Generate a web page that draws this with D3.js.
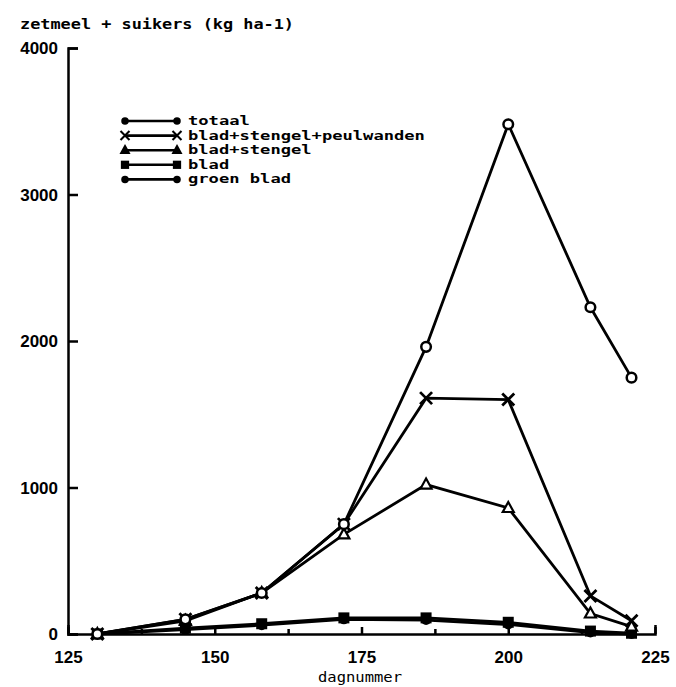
<!DOCTYPE html>
<html>
<head>
<meta charset="utf-8">
<script src="https://cdn.jsdelivr.net/npm/d3@7/dist/d3.min.js"></script>
<style>
  body { margin: 0; background: #fff; }
  .mono { font-family: 'DejaVu Sans Mono', monospace; font-weight: bold; }
  .ejes text { font-family: 'Liberation Sans', Arial, sans-serif; font-weight: bold; font-size: 17px; fill: #000; }
  .ejes path, .ejes line { stroke: #000; stroke-width: 2.5; }
</style>
</head>
<body>
<div id="graf"></div>
<script>
// dagnummer van de oogsten
const days = [130, 145, 158, 172, 186, 200, 214, 221]

// zetmeel + suikers per fractie (kg ha-1)
const totaal = [0, 100, 280, 750, 1960, 3480, 2230, 1750]
const bladStengelPeul = [0, 100, 280, 750, 1610, 1600, 260, 90]
const bladStengel = [0, 90, 280, 680, 1020, 860, 140, 50]
const blad = [0, 40, 70, 110, 110, 80, 20, 5]
const groenBlad = [0, 30, 60, 100, 95, 65, 10, 0]

const seriesNames = ['totaal', 'blad+stengel+peulwanden', 'blad+stengel', 'blad', 'groen blad']
const yTicks = [0, 1000, 2000, 3000, 4000]
const xTicks = [125, 150, 175, 200, 225]
const xMinor = [137.5, 162.5, 187.5, 212.5]

const anchoTotal = 676
const altoTotal = 687

const svg = d3.select('#graf')
  .append('svg')
  .attr('width', anchoTotal)
  .attr('height', altoTotal)

const x = d3.scaleLinear().domain([125, 225]).range([68, 655])
const y = d3.scaleLinear().domain([0, 4000]).range([634, 48])

// y-as, ticks naar binnen
const yAxisGroup = svg.append('g')
  .attr('class', 'ejes')
  .attr('transform', `translate(${x(125)}, 0)`)
  .call(d3.axisLeft(y).tickValues(yTicks).tickFormat(d3.format('d'))
    .tickSizeInner(-10).tickSizeOuter(-10).tickPadding(10))
yAxisGroup.selectAll('text').attr('dy', '0.35em')

const xAxisGroup = svg.append('g')
  .attr('class', 'ejes')
  .attr('transform', `translate(0, ${y(0)})`)
  .call(d3.axisBottom(x).tickValues(xTicks).tickSizeInner(-7).tickSizeOuter(-9).tickPadding(12))
xAxisGroup.selectAll('text').attr('y', 17)

svg.append('g')
  .attr('class', 'ejes')
  .attr('transform', `translate(0, ${y(0)})`)
  .call(d3.axisBottom(x).tickValues(xMinor).tickSize(-5).tickFormat(''))
  .select('.domain').remove()

svg.append('text')
  .attr('class', 'mono')
  .attr('x', 20)
  .attr('y', 29)
  .attr('font-size', 14)
  .attr('textLength', 274)
  .attr('lengthAdjust', 'spacingAndGlyphs')
  .text('zetmeel + suikers (kg ha-1)')

svg.append('text')
  .attr('x', 360)
  .attr('y', 682)
  .attr('text-anchor', 'middle')
  .attr('font-family', "'DejaVu Sans Mono', monospace")
  .attr('font-size', 14)
  .attr('textLength', 84)
  .attr('lengthAdjust', 'spacingAndGlyphs')
  .text('dagnummer')

const line = d3.line()
  .x((d, i) => x(days[i]))
  .y(d => y(d))

const series = [
  { naam: 'groen blad', vals: groenBlad, sym: 'dot' },
  { naam: 'blad', vals: blad, sym: 'square' },
  { naam: 'blad+stengel', vals: bladStengel, sym: 'triangle' },
  { naam: 'blad+stengel+peulwanden', vals: bladStengelPeul, sym: 'cross' },
  { naam: 'totaal', vals: totaal, sym: 'circle' },
]

function drawSymbol(sel, sym, open) {
  if (sym === 'circle') {
    sel.append('circle').attr('r', 4.8)
      .attr('fill', open ? '#fff' : '#000').attr('stroke', '#000').attr('stroke-width', 2.5)
  } else if (sym === 'dot') {
    sel.append('circle').attr('r', 5).attr('fill', '#000')
  } else if (sym === 'square') {
    sel.append('rect').attr('x', -5.5).attr('y', -5.5).attr('width', 11).attr('height', 11).attr('fill', '#000')
  } else if (sym === 'triangle') {
    sel.append('path').attr('d', 'M0,-6L5.5,4L-5.5,4Z')
      .attr('fill', open ? '#fff' : '#000').attr('stroke', '#000').attr('stroke-width', 2.2)
  } else if (sym === 'cross') {
    sel.append('path').attr('d', 'M-6,-6L6,6M-6,6L6,-6')
      .attr('stroke', '#000').attr('stroke-width', 2.8).attr('fill', 'none')
  }
}

series.forEach(s => {
  svg.append('path')
    .datum(s.vals)
    .attr('d', line)
    .attr('fill', 'none')
    .attr('stroke', '#000')
    .attr('stroke-width', 2.8)
})

series.forEach(s => {
  svg.selectAll(null)
    .data(s.vals)
    .enter()
    .append('g')
    .attr('transform', (d, i) => `translate(${x(days[i])}, ${y(d)})`)
    .each(function () { drawSymbol(d3.select(this), s.sym, true) })
})

// legenda
const legSym = ['dot', 'cross', 'triangle', 'square', 'dot']
const leg = svg.append('g').attr('transform', 'translate(125, 121)')
seriesNames.forEach((n, i) => {
  const row = leg.append('g').attr('transform', `translate(0, ${i * 14.6})`)
  row.append('line').attr('x1', 0).attr('x2', 52).attr('stroke', '#000').attr('stroke-width', 2.6)
  ;[0, 52].forEach(px => {
    const m = row.append('g').attr('transform', `translate(${px}, 0) scale(0.75)`)
    drawSymbol(m, legSym[i], false)
  })
  row.append('text')
    .attr('class', 'mono')
    .attr('x', 63)
    .attr('y', 4)
    .attr('font-size', 12.5)
    .attr('textLength', n.length * 10.3)
    .attr('lengthAdjust', 'spacingAndGlyphs')
    .text(n)
})
</script>
</body>
</html>
